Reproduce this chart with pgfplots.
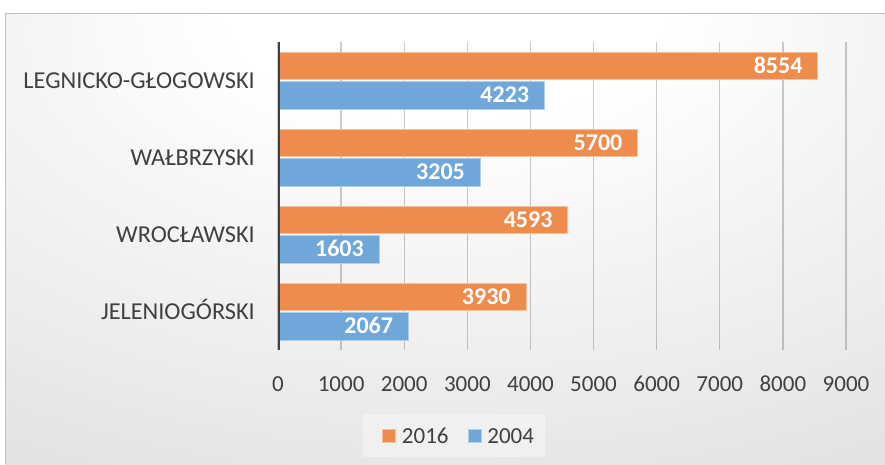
\documentclass[border=0pt]{standalone}
\usepackage{pgfplots}
\pgfplotsset{compat=1.18}
\usepackage{fontspec}
\setmainfont{Carlito}

\definecolor{o16}{HTML}{ED8C4D}
\definecolor{b04}{HTML}{6FA7DA}
\definecolor{txt}{HTML}{404040}
\pgfdeclareradialshading{bgshade}{\pgfpoint{0bp}{30bp}}{color(0bp)=(white); color(12bp)=(white); color(90bp)=(black!25)}

\begin{document}
\begin{tikzpicture}[font=\fontsize{23}{28}\selectfont]
\useasboundingbox (0pt,0pt) rectangle (885pt,-464pt);
\shade[shading=bgshade] (5pt,-13pt) rectangle (885pt,-464pt);
\draw[black!25, line width=1pt] (5pt,-13pt) -- (885pt,-13pt) (5pt,-13pt) -- (5pt,-464pt);
\begin{axis}[
	at={(278pt,-350pt)}, anchor=south west,
	scale only axis, width=568pt, height=308pt,
	xbar, bar width=0.36,
	xmin=0, xmax=9000, ymin=-0.5, ymax=3.5,
	xtick={0,1000,...,9000},
	scaled x ticks=false,
	ytick={0,1,2,3},
	yticklabels={JELENIOGÓRSKI,WROCŁAWSKI,WAŁBRZYSKI,LEGNICKO-GŁOGOWSKI},
	/pgf/number format/assume math mode=true,
	/pgf/number format/set thousands separator={},
	axis line style={draw=none},
	major tick length=0pt,
	xmajorgrids,
	grid style={black, opacity=0.2, line width=1.3pt},
	xticklabel style={anchor=base, yshift=-41pt, text=txt},
	yticklabel style={anchor=east, xshift=-23pt, inner sep=0pt, text height=15.5pt, text depth=0pt, text=txt, font=\fontsize{24.3}{28}\selectfont},
	nodes near coords,
	nodes near coords style={anchor=east, xshift=-15pt, inner sep=0pt, text height=15pt, text depth=0pt, text=white, font=\fontsize{24}{28}\selectfont\bfseries},
	legend columns=-1,
	legend style={at={(0.31,-0.278)}, anchor=center, fill=white, fill opacity=0.35, text opacity=1, draw=none,
		inner xsep=11pt, inner ysep=14pt, text=txt,
		nodes={inner xsep=0pt, inner ysep=0pt, text height=15pt, text depth=0pt},
		/tikz/every even column/.append style={column sep=11pt}},
]
\addplot[fill=o16, draw=o16!55!white, line width=0.8pt, bar shift=0.19,
	legend image code/.code={\path (-8pt,0pt) (19pt,0pt);
		\draw[fill=o16, draw=o16!55!white, line width=0.8pt, fill opacity=1, draw opacity=1] (0pt,-6.5pt) rectangle (13pt,6.5pt);}]
	coordinates {(3930,0) (4593,1) (5700,2) (8554,3)};
\addplot[fill=b04, draw=b04!55!white, line width=0.8pt, bar shift=-0.19,
	legend image code/.code={\path (-8pt,0pt) (19pt,0pt);
		\draw[fill=b04, draw=b04!55!white, line width=0.8pt, fill opacity=1, draw opacity=1] (0pt,-6.5pt) rectangle (13pt,6.5pt);}]
	coordinates {(2067,0) (1603,1) (3205,2) (4223,3)};
\legend{2016,2004}
\draw[txt, line width=3.5pt] (axis cs:0,-0.5) -- (axis cs:0,3.5);
\end{axis}
\end{tikzpicture}
\end{document}
